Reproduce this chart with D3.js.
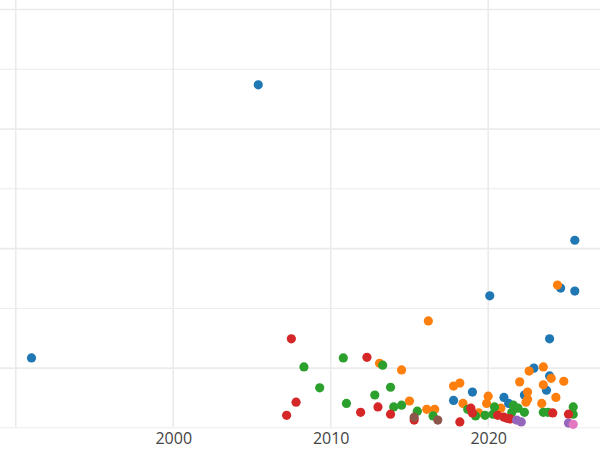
<!DOCTYPE html>
<html><head><meta charset="utf-8">
<script src="https://cdn.jsdelivr.net/npm/d3@7"></script>
<style>body{margin:0;background:#fff}</style></head>
<body><svg id="c" width="600" height="450"></svg>
<script>
const seriesNames=["blue","orange","green","red","purple","brown","pink"];
const colors=["#1f77b4","#ff7f0e","#2ca02c","#d62728","#9467bd","#8c564b","#e377c2"];
const blueX=[1991.0,2005.4,2025.5,2020.1,2024.6,2025.5,2023.9,2022.9,2023.9,2023.7,2022.3,2021.0,2019.0,2017.8,2021.3];
const blueY=[0.17,4.74,2.14,1.21,1.34,1.29,0.49,0.0,-0.13,-0.37,-0.45,-0.49,-0.40,-0.54,-0.59];
const orangeX=[2024.4,2016.2,2013.1,2014.5,2015.0,2016.1,2016.6,2017.8,2018.2,2018.4,2020.0,2019.9,2022.0,2022.6,2023.5,2024.0,2024.8,2023.5,2022.5,2022.5,2022.4,2023.4,2024.3,2020.8,2019.4];
const orangeY=[1.39,0.79,0.08,-0.03,-0.55,-0.69,-0.69,-0.30,-0.25,-0.59,-0.47,-0.59,-0.23,-0.05,0.02,-0.17,-0.22,-0.28,-0.40,-0.52,-0.57,-0.59,-0.49,-0.67,-0.75];
const greenX=[2008.3,2009.3,2010.8,2011.0,2013.3,2012.8,2013.8,2014.0,2014.5,2015.5,2016.5,2018.7,2019.2,2019.8,2020.4,2020.3,2021.6,2021.9,2022.3,2021.5,2023.5,2023.8,2025.4,2025.4];
const greenY=[0.02,-0.33,0.17,-0.59,0.05,-0.45,-0.32,-0.65,-0.62,-0.72,-0.80,-0.69,-0.80,-0.79,-0.65,-0.77,-0.62,-0.67,-0.74,-0.74,-0.74,-0.74,-0.65,-0.77];
const redX=[2007.5,2012.3,2007.8,2007.2,2011.9,2013.0,2013.8,2015.3,2018.2,2018.9,2019.0,2020.6,2021.0,2021.4,2021.2,2024.1,2025.1];
const redY=[0.49,0.18,-0.57,-0.79,-0.74,-0.65,-0.77,-0.87,-0.90,-0.67,-0.75,-0.79,-0.82,-0.85,-0.84,-0.75,-0.77];
const purpleX=[2021.8,2022.1,2025.1], purpleY=[-0.87,-0.90,-0.92];
const brownX=[2015.3,2016.8], brownY=[-0.82,-0.87];
const pinkX=[2025.4], pinkY=[-0.94];
const xTicks=[2000,2010,2020];
const allX=[blueX,orangeX,greenX,redX,purpleX,brownX,pinkX];
const allY=[blueY,orangeY,greenY,redY,purpleY,brownY,pinkY];

const svg=d3.select("#c");
const x=d3.scaleLinear().domain([1989,2027.1]).range([0,600]);
const y=d3.scaleLinear().domain([-1.37,6.16]).range([450,0]);
const g=svg.append("g");
d3.range(-1,7).forEach(v=>{
  g.append("line").attr("x1",0).attr("x2",600).attr("y1",y(v)).attr("y2",y(v))
   .attr("stroke","#ebebeb").attr("stroke-width",v%2===0?1.6:1);
});
[1990,2000,2010,2020].forEach(v=>{
  g.append("line").attr("x1",x(v)).attr("x2",x(v)).attr("y1",0).attr("y2",427)
   .attr("stroke","#ebebeb").attr("stroke-width",1.6);
});
const ax=svg.append("g").attr("transform","translate(0,427)")
  .call(d3.axisBottom(x).tickValues(xTicks).tickFormat(d3.format("d")).tickSize(0).tickPadding(6));
ax.select(".domain").remove();
ax.selectAll("text").attr("font-family","Open Sans, sans-serif").attr("font-size",16).attr("fill","#444");
seriesNames.forEach((s,i)=>{
  const pts=allX[i].map((xv,j)=>[xv,allY[i][j]]);
  svg.append("g").selectAll("circle").data(pts).enter().append("circle")
    .attr("cx",d=>x(d[0])).attr("cy",d=>y(d[1])).attr("r",4.6).attr("fill",colors[i]);
});
</script></body></html>
